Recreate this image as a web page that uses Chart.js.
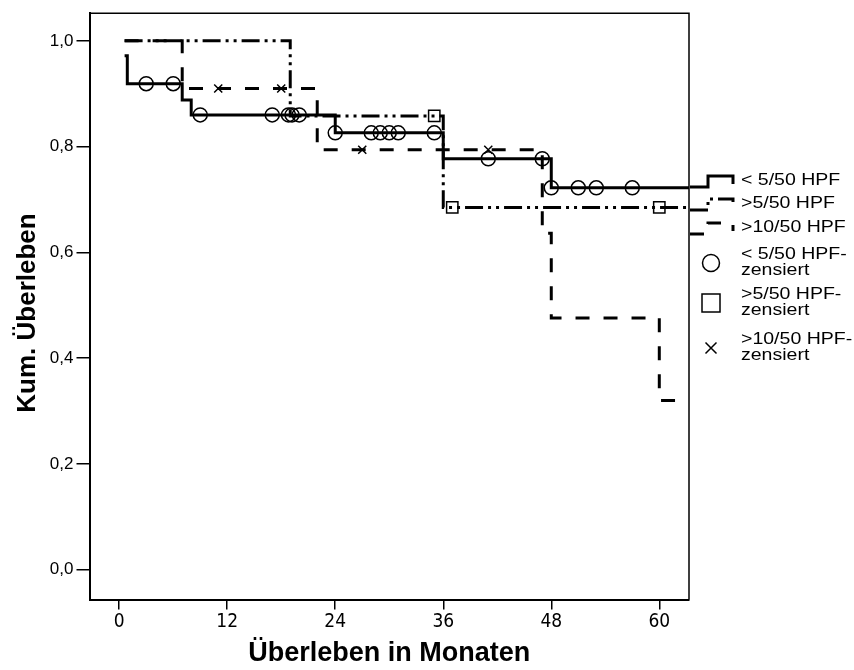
<!DOCTYPE html>
<html><head><meta charset="utf-8">
<script src="https://cdn.jsdelivr.net/npm/chart.js@4.4.0/dist/chart.umd.min.js"></script>
<style>html,body{margin:0;padding:0;background:#fff}#wrap{width:854px;height:670px}</style>
</head><body><div id="wrap"><canvas id="c" width="854" height="670"></canvas></div>
<script>
// ---- data ----
const xTicks = [0, 12, 24, 36, 48, 60];
const yTicks = [0, 0.2, 0.4, 0.6, 0.8, 1.0];
const yTickLabels = ['0,0', '0,2', '0,4', '0,6', '0,8', '1,0'];
const seriesNames = ['< 5/50 HPF', '>5/50 HPF', '>10/50 HPF'];
const censNames = [['< 5/50 HPF-', 'zensiert'], ['>5/50 HPF-', 'zensiert'], ['>10/50 HPF-', 'zensiert']];

const lowTimes = [0.6, 0.9, 7, 8, 24, 36, 48, 63.3];
const lowSurv  = [0.972, 0.919, 0.888, 0.860, 0.826, 0.777, 0.722, 0.722];
const midTimes = [0.6, 19, 36, 63.3];
const midSurv  = [1.0, 0.858, 0.685, 0.685];
const highTimes = [0.6, 7, 22, 47, 48, 60, 63.3];
const highSurv  = [1.0, 0.910, 0.794, 0.636, 0.476, 0.320, 0.320];

const lowCensTimes = [3, 6, 9, 17, 18.8, 19.2, 20, 24, 28, 29, 30, 31, 35, 41, 47, 48, 51, 53, 57];
const lowCensSurv  = [0.919, 0.919, 0.860, 0.860, 0.860, 0.860, 0.860, 0.826, 0.826, 0.826, 0.826, 0.826, 0.826, 0.777, 0.777, 0.722, 0.722, 0.722, 0.722];
const midCensTimes = [35, 37, 60];
const midCensSurv  = [0.858, 0.685, 0.685];
const highCensTimes = [11, 18, 27, 41];
const highCensSurv  = [0.910, 0.910, 0.794, 0.794];

const xMin = -3.3, xMax = 63.3, yMin = -0.0565, yMax = 1.0523;

const zip = (xs, ys) => xs.map((x, i) => ({x: x, y: ys[i]}));
const DASHDOT = [18, 5, 3, 5, 3, 5];
const DASH = [14, 14];
const FONT = "'Liberation Sans', Arial, sans-serif";
const NARROW = "'Liberation Sans Narrow', 'Arial Narrow', 'DejaVu Sans Condensed', sans-serif";

const lineDs = (label, pts, dash) => ({
  label: label, data: pts, showLine: true, stepped: 'before',
  borderColor: '#000', borderWidth: 3, borderDash: dash, pointRadius: 0,
  fill: false, borderCapStyle: 'butt', borderJoinStyle: 'miter'
});
const censDs = (label, pts, style, r) => ({
  label: label, data: pts, showLine: false, pointStyle: style, pointRadius: r,
  pointBorderColor: '#000', pointBackgroundColor: 'rgba(0,0,0,0)', pointBorderWidth: 1.5
});

function stretchedText(ctx, text, x, y, sx) {
  ctx.save();
  ctx.translate(x, y); ctx.scale(sx, 1);
  ctx.fillText(text, 0, 0);
  ctx.restore();
}

const overlay = {
  id: 'overlay',
  afterDraw(chart) {
    const ctx = chart.ctx, a = chart.chartArea;
    ctx.save();
    // frame top & right
    ctx.strokeStyle = '#000'; ctx.lineWidth = 1.5;
    ctx.beginPath();
    ctx.moveTo(a.left, a.top); ctx.lineTo(a.right, a.top); ctx.lineTo(a.right, a.bottom);
    ctx.stroke();
    // y title
    ctx.save();
    ctx.translate(28, 313); ctx.rotate(-Math.PI / 2);
    ctx.font = 'bold 26px ' + FONT; ctx.fillStyle = '#000';
    ctx.textAlign = 'center'; ctx.textBaseline = 'middle';
    ctx.fillText('Kum. Überleben', 0, 0);
    ctx.restore();
    // legend
    const lx = 690, tx = 741, sx = 1.22;
    ctx.font = '16px ' + FONT; ctx.fillStyle = '#000'; ctx.textBaseline = 'middle'; ctx.textAlign = 'left';
    const samples = [[], DASHDOT, DASH];
    const cys = [181, 204, 228];
    for (let i = 0; i < 3; i++) {
      const cy = cys[i];
      ctx.setLineDash(samples[i]); ctx.lineWidth = 3; ctx.lineCap = 'butt';
      ctx.beginPath();
      ctx.moveTo(lx, cy + 6); ctx.lineTo(lx + 18, cy + 6); ctx.lineTo(lx + 18, cy - 5);
      ctx.lineTo(lx + 43, cy - 5); ctx.lineTo(lx + 43, cy + 3);
      ctx.stroke();
      ctx.setLineDash([]);
      stretchedText(ctx, seriesNames[i], tx, cy, sx);
    }
    const mys = [263, 303, 348];
    ctx.lineWidth = 1.5;
    ctx.beginPath(); ctx.arc(711, mys[0], 8.5, 0, Math.PI * 2); ctx.stroke();
    ctx.strokeRect(711 - 9, mys[1] - 9, 18, 18);
    ctx.beginPath();
    ctx.moveTo(711 - 5.5, mys[2] - 5.5); ctx.lineTo(711 + 5.5, mys[2] + 5.5);
    ctx.moveTo(711 + 5.5, mys[2] - 5.5); ctx.lineTo(711 - 5.5, mys[2] + 5.5);
    ctx.stroke();
    for (let i = 0; i < 3; i++) {
      stretchedText(ctx, censNames[i][0], tx, mys[i] - 8, sx);
      stretchedText(ctx, censNames[i][1], tx, mys[i] + 8, sx);
    }
    ctx.restore();
  }
};

new Chart(document.getElementById('c'), {
  type: 'scatter',
  data: {
    datasets: [
      lineDs(seriesNames[0], zip(lowTimes, lowSurv), []),
      lineDs(seriesNames[1], zip(midTimes, midSurv), DASHDOT),
      lineDs(seriesNames[2], zip(highTimes, highSurv), DASH),
      censDs(censNames[0].join(' '), zip(lowCensTimes, lowCensSurv), 'circle', 7),
      censDs(censNames[1].join(' '), zip(midCensTimes, midCensSurv), 'rect', 8),
      censDs(censNames[2].join(' '), zip(highCensTimes, highCensSurv), 'crossRot', 5.7)
    ]
  },
  options: {
    responsive: false, animation: false, devicePixelRatio: 1,
    layout: {padding: {left: 0, top: 10.5, right: 165, bottom: 0}},
    plugins: {legend: {display: false}, tooltip: {enabled: false}},
    scales: {
      x: {
        type: 'linear', min: xMin, max: xMax,
        afterBuildTicks: s => { s.ticks = xTicks.map(v => ({value: v})); },
        afterFit: s => { s.height = 70.5; },
        ticks: {autoSkip: false, maxRotation: 0, color: '#000', padding: 1,
                font: {family: NARROW, size: 19}, callback: v => String(v)},
        grid: {drawOnChartArea: false, drawTicks: true, tickLength: 10, color: '#000', lineWidth: 1.5},
        border: {display: true, color: '#000', width: 2},
        title: {display: true, text: 'Überleben in Monaten', color: '#000',
                font: {family: FONT, size: 27, weight: 'bold'}, padding: {top: 0, bottom: 0}}
      },
      y: {
        type: 'linear', min: yMin, max: yMax,
        afterBuildTicks: s => { s.ticks = yTicks.map(v => ({value: v})); },
        afterFit: s => { s.width = 89.5; },
        ticks: {autoSkip: false, color: '#000', padding: 3, font: {family: FONT, size: 17},
                callback: v => { const i = yTicks.findIndex(t => Math.abs(t - v) < 1e-9); return i >= 0 ? yTickLabels[i] : ''; }},
        grid: {drawOnChartArea: false, drawTicks: true, tickLength: 13, color: '#000', lineWidth: 1.5},
        border: {display: true, color: '#000', width: 2}
      }
    }
  },
  plugins: [overlay]
});
</script>
</body></html>
